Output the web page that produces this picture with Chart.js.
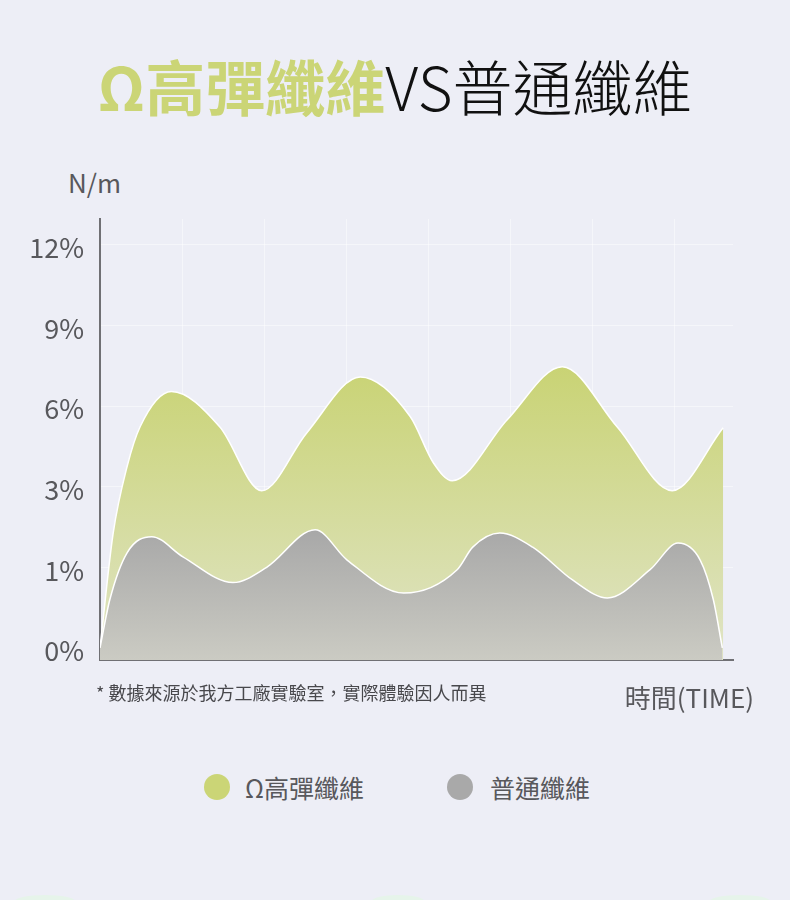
<!DOCTYPE html>
<html>
<head>
<meta charset="utf-8">
<script src="https://cdn.jsdelivr.net/npm/chart.js@4.4.1/dist/chart.umd.min.js"></script>
<style>
  html, body { margin: 0; padding: 0; }
  body {
    width: 790px; height: 900px; overflow: hidden; position: relative;
    background: #edeef6;
    font-family: "Noto Sans CJK TC", "Noto Sans", sans-serif;
    color: #58585c;
  }
  .title {
    position: absolute; left: 0; width: 790px; top: 49px;
    text-align: center; font-size: 60px; line-height: 72px; color: #111;
  }
  .title b { color: #cbd576; font-weight: 700; }
  .title span { font-weight: 300; }
  .unit { position: absolute; left: 68px; top: 164px; font-size: 26px; line-height: 36px; }
  .note { position: absolute; left: 96px; top: 679px; font-size: 18px; line-height: 26px; color: #48484c; }
  .time { position: absolute; right: 36px; top: 680px; font-size: 26px; line-height: 34px; }
  .legend { position: absolute; top: 770px; left: 0; width: 790px; height: 34px; }
  .legend span { position: absolute; font-size: 25px; line-height: 34px; }
  .legend i { position: absolute; width: 26px; height: 26px; border-radius: 50%; top: 4px; }
  .glow { position: absolute; height: 12px; border-radius: 50%; background: #e6f4ea; top: 895px; }
  #wrap { position: absolute; left: 0; top: 200px; width: 790px; height: 480px; }
</style>
</head>
<body>
<div class="title"><b>Ω高彈纖維</b><span>VS普通纖維</span></div>
<div class="unit">N/m</div>
<div id="wrap"><canvas id="chart"></canvas></div>
<div class="note">* 數據來源於我方工廠實驗室，實際體驗因人而異</div>
<div class="time">時間(TIME)</div>
<div class="legend">
  <i style="left:204px;background:#cbd576"></i><span style="left:245px">Ω高彈纖維</span>
  <i style="left:447px;background:#a9a9a9"></i><span style="left:490px">普通纖維</span>
</div>
<div class="glow" style="left:15px;width:60px"></div>
<div class="glow" style="left:372px;width:52px"></div>
<div class="glow" style="left:710px;width:60px"></div>

<script>
// y axis labels are evenly spaced even though the values are not
const yTickValues = [0, 1, 3, 6, 9, 12];
const yTickLabels = ["0%", "1%", "3%", "6%", "9%", "12%"];
const xGridSteps = [1, 2, 3, 4, 5, 6, 7];

// Ω高彈纖維 (time in grid steps, value in %)
const omegaTime = [0, 0.16, 0.33, 0.49, 0.87, 1.46, 1.97, 2.52, 3.17, 3.78, 4.06, 4.29,
  4.96, 5.63, 6.30, 6.97, 7.59];
const omegaValues = [0, 1.84, 3.75, 5.24, 6.54, 5.22, 2.90, 5.01, 7.08, 5.60, 3.89, 3.22,
  5.49, 7.46, 5.22, 2.90, 5.19];

// 普通纖維
const normalTime = [0, 0.12, 0.33, 0.63, 1.01, 1.62, 2.03, 2.62, 3.01, 3.70, 4.35, 4.54,
  4.87, 5.27, 5.76, 6.18, 6.70, 7.04, 7.31, 7.47, 7.58];
const normalValues = [0, 0.60, 1.36, 1.76, 1.26, 0.81, 1.00, 1.93, 1.18, 0.68, 0.97, 1.50,
  1.85, 1.50, 0.84, 0.62, 0.97, 1.60, 1.18, 0.60, 0];

// percent -> position on the evenly spaced axis
function toStep(p) {
  for (let i = 0; i < yTickValues.length - 1; i++) {
    if (p <= yTickValues[i + 1]) {
      return i + (p - yTickValues[i]) / (yTickValues[i + 1] - yTickValues[i]);
    }
  }
  return yTickValues.length - 1;
}

function points(times, values) {
  return times.map((t, i) => ({ x: t, y: toStep(values[i]) }));
}

function gradient(topStep, top, bottom) {
  return ctx => {
    const chart = ctx.chart;
    const area = chart.chartArea;
    if (!area) return top;
    const g = chart.ctx.createLinearGradient(0, chart.scales.y.getPixelForValue(topStep), 0, area.bottom);
    g.addColorStop(0, top);
    g.addColorStop(1, bottom);
    return g;
  };
}

new Chart(document.getElementById("chart"), {
  type: "line",
  data: {
    datasets: [{
      label: "Ω高彈纖維",
      data: points(omegaTime, omegaValues),
      order: 1,
      fill: "start",
      backgroundColor: gradient(3.5, "#c9d374", "#e0e4c6"),
      borderColor: "#ffffff",
      borderWidth: 1.5,
      pointRadius: 0,
      cubicInterpolationMode: "monotone"
    }, {
      label: "普通纖維",
      data: points(normalTime, normalValues),
      order: 0,
      fill: "start",
      backgroundColor: gradient(1.45, "#a8a8a8", "#cbcbc3"),
      borderColor: "#ffffff",
      borderWidth: 1.5,
      pointRadius: 0,
      cubicInterpolationMode: "monotone"
    }]
  },
  options: {
    responsive: true,
    maintainAspectRatio: false,
    animation: false,
    layout: { padding: { top: 19, right: 57, left: 0, bottom: 0 } },
    plugins: { legend: { display: false }, tooltip: { enabled: false } },
    scales: {
      x: {
        type: "linear",
        min: 0,
        max: 7.71,
        z: 1,
        afterBuildTicks: s => { s.ticks = xGridSteps.map(v => ({ value: v })); },
        afterFit: s => { s.height = 20; s.paddingLeft = 0; s.paddingRight = 0; },
        ticks: { display: false },
        grid: { color: "rgba(255,255,255,0.45)", drawTicks: false },
        border: { color: "#707074", width: 2 }
      },
      y: {
        type: "linear",
        min: -0.15,
        max: 5.32,
        z: 1,
        afterBuildTicks: s => { s.ticks = yTickLabels.map((l, i) => ({ value: i })); },
        afterFit: s => { s.width = 100; s.paddingTop = 0; s.paddingBottom = 0; },
        ticks: {
          padding: 16,
          labelOffset: 3,
          color: "#58585c",
          font: { family: "'Noto Sans CJK TC', 'Noto Sans', sans-serif", size: 27 },
          callback: v => yTickLabels[v]
        },
        grid: {
          drawTicks: false,
          color: ctx => ctx.tick && ctx.tick.value > 0 ? "rgba(255,255,255,0.45)" : "rgba(0,0,0,0)"
        },
        border: { color: "#707074", width: 2 }
      }
    }
  }
});
</script>
</body>
</html>
